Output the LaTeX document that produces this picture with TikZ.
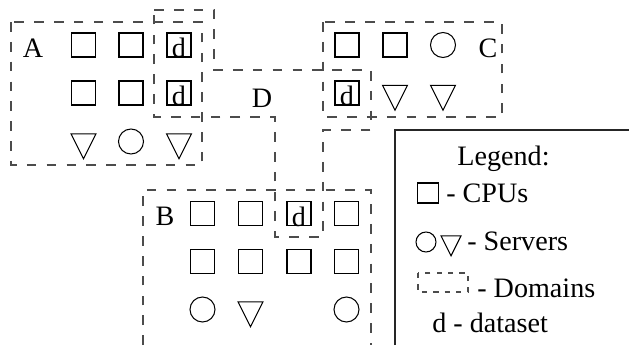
\documentclass[tikz,border=0pt]{standalone}
\usepackage{fontspec}
\setmainfont{Liberation Serif}
\usetikzlibrary{shapes.geometric}

\begin{document}
\begin{tikzpicture}[
    x=0.02cm,
    y=-0.02cm,
    every node/.style={font=\fontsize{16}{19}\selectfont},
    cpu/.style={draw, rectangle, line width=0.6pt, minimum size=4.8mm, inner sep=0pt},
    dbox/.style={cpu, label={[inner sep=0pt, yshift=-0.6mm]center:d}},
    srvc/.style={draw, circle, line width=0.6pt, minimum size=5mm, inner sep=0pt},
    srvt/.style={draw, isosceles triangle, isosceles triangle stretches, shape border rotate=-90,
      line width=0.6pt, minimum width=5mm, minimum height=5mm, inner sep=0pt},
    domline/.style={draw=black!70, line width=0.6pt, dash pattern=on 5.5pt off 5.8pt},
    legendline/.style={draw=black!85, line width=0.7pt},
    legtext/.style={anchor=base west, inner sep=0pt}
  ]
  \useasboundingbox (0,0) rectangle (629,345);
  %
  % domain outlines
  \draw[domline] (11,22) rectangle (202,165);
  \draw[domline] (323,22) rectangle (502,117);
  \draw[domline] (143,345) -- (143,190) -- (371,190) -- (371,345);
  \draw[domline] (154,10) -- (214,10) -- (214,70) -- (371,70) -- (371,130) -- (323,130)
    -- (323,237) -- (275,237) -- (275,117) -- (154,117) -- cycle;

  %
  % domain A
  \node (labA) at (33,48) {A};
  \node[cpu] (a11) at (83.5,45) {};
  \node[cpu] (a12) at (131,45) {};
  \node[dbox] (a13) at (179,45) {};
  \node[cpu] (a21) at (83.5,93) {};
  \node[cpu] (a22) at (131,93) {};
  \node[dbox] (a23) at (179,93) {};
  \node[srvt] (a31) at (83.5,141.5) {};
  \node[srvc] (a32) at (131,141.5) {};
  \node[srvt] (a33) at (179,141.5) {};

  %
  % domain D
  \node (labD) at (262,98) {D};

  %
  % domain C
  \node[cpu] (c11) at (347,45) {};
  \node[cpu] (c12) at (395,45) {};
  \node[srvc] (c13) at (443,45) {};
  \node (labC) at (488,48) {C};
  \node[dbox] (c21) at (347,93) {};
  \node[srvt] (c22) at (395,93) {};
  \node[srvt] (c23) at (443,93) {};

  %
  % domain B
  \node (labB) at (165,216) {B};
  \node[cpu] (b11) at (202.5,213.5) {};
  \node[cpu] (b12) at (250.5,213.5) {};
  \node[dbox] (b13) at (299,213.5) {};
  \node[cpu] (b14) at (346.5,213.5) {};
  \node[cpu] (b21) at (202.5,261.5) {};
  \node[cpu] (b22) at (250.5,261.5) {};
  \node[cpu] (b23) at (299,261.5) {};
  \node[cpu] (b24) at (346.5,261.5) {};
  \node[srvc] (b31) at (202.5,309.5) {};
  \node[srvt] (b32) at (250.5,309.5) {};
  \node[srvc] (b34) at (346.5,309.5) {};

  %
  % legend
  \draw[legendline] (395,345) -- (395,130) -- (629,130);
  \node[anchor=base, inner sep=0pt] (legTitle) at (503.5,165) {Legend:};
  \node[cpu, minimum width=4.3mm, minimum height=4mm] (legCpu) at (428,193) {};
  \node[legtext] (legCpuTxt) at (446,202) {- CPUs};
  \node[srvc, minimum size=4mm] (legSrvc) at (426,242) {};
  \node[srvt, minimum width=4mm, minimum height=4mm] (legSrvt) at (451,242) {};
  \node[legtext] (legSrvTxt) at (467,250) {- Servers};
  \draw[domline, dash pattern=on 3pt off 3.5pt] (418,273) rectangle (468,292);
  \node[legtext] (legDomTxt) at (477,297) {- Domains};
  \node[legtext] (legDataTxt) at (432,332) {d - dataset};
\end{tikzpicture}
\end{document}
